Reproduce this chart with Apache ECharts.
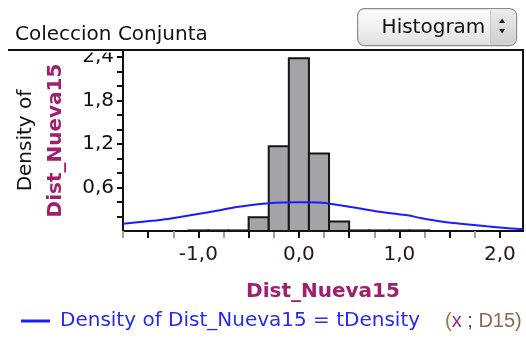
<!DOCTYPE html>
<html>
<head>
<meta charset="utf-8">
<title>Coleccion Conjunta</title>
<script src="https://cdn.jsdelivr.net/npm/echarts@6/dist/echarts.min.js"></script>
<style>
  html, body { margin: 0; padding: 0; background: #ffffff; }
  #chart { width: 526px; height: 339px; }
</style>
</head>
<body>
<div id="chart"></div>
<script>
// Histogram bins of Dist_Nueva15 (left edge, right edge) and their densities
const binStarts = [-1.1, -0.9, -0.7, -0.5, -0.3, -0.1, 0.1, 0.3, 0.5, 0.7, 0.9, 1.1];
const binEnds   = [-0.9, -0.7, -0.5, -0.3, -0.1, 0.1, 0.3, 0.5, 0.7, 0.9, 1.1, 1.3];
const binDensity = [0.008, 0.008, 0.008, 0.19, 1.17, 2.385, 1.07, 0.13, 0.008, 0.008, 0.008, 0.008];

// Fitted t density curve: x positions and density values
const curveX = [-1.75, -1.58, -1.36, -1.2, -1.05, -0.9, -0.76, -0.62, -0.47, -0.3, -0.16, 0.0, 0.2, 0.41, 0.61, 0.78, 0.91, 1.08, 1.21, 1.34, 1.49, 1.66, 1.87, 2.12, 2.23];
const curveY = [0.10, 0.125, 0.157, 0.19, 0.225, 0.26, 0.295, 0.33, 0.36, 0.383, 0.393, 0.396, 0.393, 0.355, 0.31, 0.27, 0.245, 0.217, 0.18, 0.148, 0.116, 0.093, 0.065, 0.035, 0.028];

// Axis tick positions and labels
const xMajorTicks = [-1.5, -1.0, -0.5, 0.0, 0.5, 1.0, 1.5, 2.0];
const xMinorTicks = [-1.75, -1.25, -0.75, -0.25, 0.25, 0.75, 1.25, 1.75];
const xLabelValues = [-1.0, 0.0, 1.0, 2.0];
const yTicks = [0.2, 0.4, 0.6, 0.8, 1.0, 1.2, 1.4, 1.6, 1.8, 2.0, 2.2, 2.4];
const yLabelValues = [0.6, 1.2, 1.8, 2.4];

const FONT = 'DejaVu Sans';
const FORMULA_FONT = 'Liberation Sans';
const PURPLE = '#a0206e';
const curveName = 'Density of Dist_Nueva15 = tDensity (x ; D15)';

const fmt = v => v.toFixed(1).replace('.', ',');

const histData = binStarts.map((s, i) => [s, binEnds[i], binDensity[i]]);
const curveData = curveX.map((x, i) => [x, curveY[i]]);

// Both grids share the same plot rectangle; the second one only carries the light minor ticks.
const plotBox = { left: 123, right: 3, top: 50, bottom: 108 };

const chart = echarts.init(document.getElementById('chart'), null, { renderer: 'canvas' });

chart.setOption({
  animation: false,
  backgroundColor: '#ffffff',
  textStyle: { fontFamily: FONT },
  title: {
    text: 'Coleccion Conjunta',
    left: 10,
    top: 20,
    textStyle: { fontFamily: FONT, fontSize: 20, fontWeight: 'normal', color: '#111111' }
  },
  grid: [
    Object.assign({ show: true, borderColor: '#111111', borderWidth: 2, backgroundColor: 'transparent' }, plotBox),
    Object.assign({ show: false }, plotBox)
  ],
  legend: {
    data: [curveName],
    left: 21,
    top: 311,
    padding: 0,
    icon: 'rect',
    itemWidth: 29,
    itemHeight: 3,
    selectedMode: false,
    formatter: () => '{b|Density of Dist_Nueva15 = tDensity}{p|(}{x|x}{s| ; }{d|D15)}',
    textStyle: {
      padding: [0, 0, 0, 5],
      rich: {
        b: { fontFamily: FONT, fontSize: 20, color: '#2a2aee' },
        p: { fontFamily: FORMULA_FONT, fontSize: 20, color: '#b07038', padding: [0, 0, 0, 25] },
        x: { fontFamily: FORMULA_FONT, fontSize: 20, color: '#9a2a7a' },
        s: { fontFamily: FORMULA_FONT, fontSize: 20, color: '#5a3a5a' },
        d: { fontFamily: FORMULA_FONT, fontSize: 20, color: '#8a6a5a' }
      }
    }
  },
  xAxis: [
    {
      type: 'value',
      gridIndex: 0,
      min: -1.75, max: 2.23,
      name: 'Dist_Nueva15',
      nameLocation: 'middle',
      nameGap: 51,
      nameTextStyle: { fontFamily: FONT, fontSize: 20, fontWeight: 'bold', color: PURPLE },
      axisLine: { show: true, onZero: false, lineStyle: { color: '#111111', width: 2 } },
      axisTick: { show: true, length: 7, customValues: xMajorTicks, lineStyle: { color: '#111111', width: 2 } },
      axisLabel: {
        customValues: xLabelValues,
        formatter: fmt,
        margin: 14,
        fontFamily: FONT, fontSize: 20, color: '#2a102a'
      },
      splitLine: { show: false }
    },
    {
      type: 'value',
      gridIndex: 1,
      min: -1.75, max: 2.23,
      position: 'bottom',
      axisLine: { show: false, onZero: false },
      axisTick: { show: true, length: 7, customValues: xMinorTicks, lineStyle: { color: '#a0a0a0', width: 2 } },
      axisLabel: { show: false },
      splitLine: { show: false }
    }
  ],
  yAxis: [
    {
      type: 'value',
      gridIndex: 0,
      min: 0, max: 2.5,
      name: '{a|Density of}\n{b|Dist_Nueva15}',
      nameLocation: 'middle',
      nameRotate: 90,
      nameGap: 52,
      nameTextStyle: {
        rich: {
          a: { fontFamily: FONT, fontSize: 20, color: '#111111', lineHeight: 30 },
          b: { fontFamily: FONT, fontSize: 20, fontWeight: 'bold', color: PURPLE, lineHeight: 30 }
        }
      },
      axisLine: { show: true, onZero: false, lineStyle: { color: '#111111', width: 2 } },
      axisTick: { show: true, length: 6, customValues: yTicks, lineStyle: { color: '#111111', width: 2 } },
      axisLabel: {
        customValues: yLabelValues,
        formatter: fmt,
        margin: 9,
        fontFamily: FONT, fontSize: 20, color: '#111111'
      },
      splitLine: { show: false }
    },
    {
      type: 'value',
      gridIndex: 1,
      min: 0, max: 2.5,
      show: false
    }
  ],
  series: [
    {
      name: 'Histogram',
      type: 'custom',
      xAxisIndex: 0,
      yAxisIndex: 0,
      data: histData,
      encode: { x: [0, 1], y: 2 },
      z: 2,
      renderItem: (params, api) => {
        const p0 = api.coord([api.value(0), 0]);
        const p1 = api.coord([api.value(1), api.value(2)]);
        return {
          type: 'rect',
          shape: { x: p0[0], y: p1[1], width: p1[0] - p0[0], height: p0[1] - p1[1] },
          style: { fill: '#a4a3a8', stroke: '#151515', lineWidth: 2 }
        };
      }
    },
    {
      name: curveName,
      type: 'line',
      xAxisIndex: 0,
      yAxisIndex: 0,
      data: curveData,
      smooth: 0.3,
      showSymbol: false,
      z: 5,
      lineStyle: { color: '#1c1cff', width: 2 },
      itemStyle: { color: '#1c1cff' }
    }
  ],
  graphic: [
    // panel area above the plot hides the top of the highest tick label
    { type: 'rect', shape: { x: 66, y: 40, width: 56, height: 12.5 }, style: { fill: '#ffffff' }, z: 99 },
    // panel rule continuing the plot's top edge to the left
    { type: 'line', shape: { x1: 8, y1: 50, x2: 124, y2: 50 }, style: { stroke: '#111111', lineWidth: 2 }, z: 100 },
    // "Histogram" pop-up button
    {
      type: 'group', left: 357, top: 8, z: 100,
      children: [
        {
          type: 'rect', shape: { x: 0, y: 0, width: 159, height: 37, r: 7 },
          style: {
            fill: new echarts.graphic.LinearGradient(0, 0, 0, 1, [
              { offset: 0, color: '#fdfdfd' }, { offset: 0.5, color: '#f1f1f1' }, { offset: 1, color: '#dedede' }
            ]),
            stroke: '#8c8c8c', lineWidth: 1.2
          }
        },
        {
          type: 'rect', shape: { x: 133, y: 1, width: 25, height: 35, r: [0, 6, 6, 0] },
          style: {
            fill: new echarts.graphic.LinearGradient(0, 0, 0, 1, [
              { offset: 0, color: '#ececec' }, { offset: 1, color: '#cfcfcf' }
            ])
          }
        },
        { type: 'line', shape: { x1: 133, y1: 2, x2: 133, y2: 35 }, style: { stroke: '#c4c4c4', lineWidth: 1 } },
        {
          type: 'text', x: 24, y: 19,
          style: { text: 'Histogram', fontFamily: FONT, fontSize: 20, fill: '#111111', verticalAlign: 'middle' }
        },
        { type: 'polygon', shape: { points: [[141.5, 14.5], [147.5, 14.5], [144.5, 10]] }, style: { fill: '#222222' } },
        { type: 'polygon', shape: { points: [[141.5, 20.5], [147.5, 20.5], [144.5, 25]] }, style: { fill: '#222222' } }
      ]
    }
  ]
});
</script>
</body>
</html>
